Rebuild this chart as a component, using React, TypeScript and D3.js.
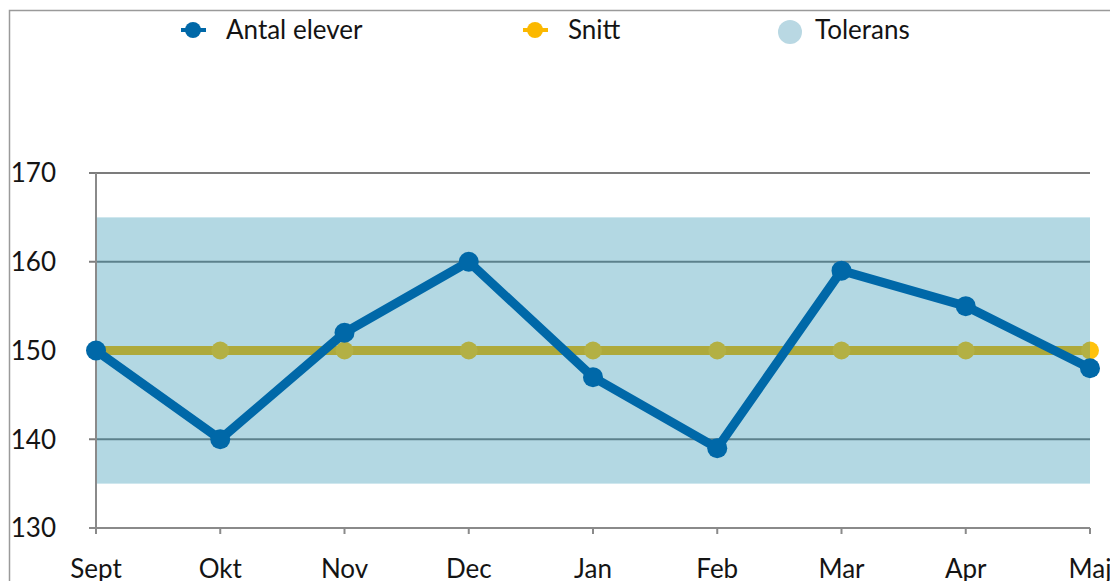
import React, { useEffect, useRef } from 'react';
import * as d3 from 'd3';

const months = ['Sept', 'Okt', 'Nov', 'Dec', 'Jan', 'Feb', 'Mar', 'Apr', 'Maj'];
const antalElever = [150, 140, 152, 160, 147, 139, 159, 155, 148];
const snitt = [150, 150, 150, 150, 150, 150, 150, 150, 150];
const tolerans = [135, 165];
const yTicks = [130, 140, 150, 160, 170];

const FONT = 'Lato, "Noto Sans", sans-serif';

function App() {
    const svgRef = useRef<SVGSVGElement>(null);

    useEffect(() => {
        const svg = d3.select(svgRef.current);
        svg.selectAll('*').remove();

        const W = 1110, H = 581;
        svg.attr('width', W).attr('height', H);

        const x = d3.scalePoint<string>().domain(months).range([96, 1090]);
        const y = d3.scaleLinear().domain([130, 170]).range([528, 173]);

        // outer frame (top + left)
        svg.append('path')
            .attr('d', `M9.5,${H} V10.5 H${W}`)
            .attr('fill', 'none')
            .attr('stroke', '#9a9a9a')
            .attr('stroke-width', 1.5);

        // gridlines
        svg.append('g')
            .selectAll('line')
            .data(yTicks.filter(t => t !== 130))
            .enter()
            .append('line')
            .attr('x1', 89)
            .attr('x2', 1090)
            .attr('y1', d => y(d))
            .attr('y2', d => y(d))
            .attr('stroke', '#7c7c7c')
            .attr('stroke-width', 2);

        // y axis line
        svg.append('line')
            .attr('x1', 96).attr('x2', 96)
            .attr('y1', y(170)).attr('y2', y(130) + 6)
            .attr('stroke', '#8a8a8a').attr('stroke-width', 2);

        // x axis line + ticks
        svg.append('line')
            .attr('x1', 89).attr('x2', 1090)
            .attr('y1', y(130)).attr('y2', y(130))
            .attr('stroke', '#8a8a8a').attr('stroke-width', 2);
        svg.append('g')
            .selectAll('line')
            .data(months)
            .enter()
            .append('line')
            .attr('x1', d => x(d)!)
            .attr('x2', d => x(d)!)
            .attr('y1', y(130))
            .attr('y2', y(130) + 6)
            .attr('stroke', '#8a8a8a').attr('stroke-width', 2);

        // y labels
        svg.append('g')
            .selectAll('text')
            .data(yTicks)
            .enter()
            .append('text')
            .attr('x', 56)
            .attr('y', d => y(d))
            .attr('dy', '0.36em')
            .attr('text-anchor', 'end')
            .style('font-family', FONT)
            .style('font-size', '26px')
            .attr('fill', '#141414')
            .text(d => d);

        // x labels
        svg.append('g')
            .selectAll('text')
            .data(months)
            .enter()
            .append('text')
            .attr('x', d => x(d)!)
            .attr('y', 578)
            .attr('text-anchor', 'middle')
            .style('font-family', FONT)
            .style('font-size', '26px')
            .attr('fill', '#141414')
            .text(d => d);

        // Snitt line (under the band)
        const line = d3.line<number>()
            .x((_, i) => x(months[i])!)
            .y(d => y(d));

        svg.append('path')
            .datum(snitt)
            .attr('d', line)
            .attr('fill', 'none')
            .attr('stroke', '#f7b800')
            .attr('stroke-width', 9);
        svg.append('g')
            .selectAll('circle')
            .data(snitt)
            .enter()
            .append('circle')
            .attr('cx', (_, i) => x(months[i])!)
            .attr('cy', d => y(d))
            .attr('r', 9)
            .attr('fill', '#ffc20e');

        // Tolerans band (semi-transparent)
        svg.append('rect')
            .attr('x', 97)
            .attr('width', 1090 - 97)
            .attr('y', y(tolerans[1]))
            .attr('height', y(tolerans[0]) - y(tolerans[1]))
            .attr('fill', '#1f8cad')
            .attr('fill-opacity', 0.34);

        // Antal elever
        svg.append('path')
            .datum(antalElever)
            .attr('d', line)
            .attr('fill', 'none')
            .attr('stroke', '#0068a8')
            .attr('stroke-width', 9)
            .attr('stroke-linejoin', 'round');
        svg.append('g')
            .selectAll('circle')
            .data(antalElever)
            .enter()
            .append('circle')
            .attr('cx', (_, i) => x(months[i])!)
            .attr('cy', d => y(d))
            .attr('r', 10)
            .attr('fill', '#0068a8');

        // legend
        const legend = [
            { label: 'Antal elever', color: '#0068a8', x: 193, kind: 'line' },
            { label: 'Snitt', color: '#fbb800', x: 535, kind: 'line' },
            { label: 'Tolerans', color: '#b9d8e3', x: 790, kind: 'dot' },
        ];
        const lg = svg.append('g');
        legend.forEach(l => {
            if (l.kind === 'line') {
                lg.append('line')
                    .attr('x1', l.x - 12).attr('x2', l.x + 13)
                    .attr('y1', 30).attr('y2', 30)
                    .attr('stroke', l.color).attr('stroke-width', 4);
                lg.append('circle')
                    .attr('cx', l.x).attr('cy', 30).attr('r', 8)
                    .attr('fill', l.color);
            } else {
                lg.append('circle')
                    .attr('cx', l.x).attr('cy', 32).attr('r', 12)
                    .attr('fill', l.color);
            }
            lg.append('text')
                .attr('x', l.kind === 'line' ? l.x + 33 : l.x + 25)
                .attr('y', 30)
                .attr('dy', '0.36em')
                .style('font-family', FONT)
                .style('font-size', '26px')
                .attr('fill', '#141414')
                .text(l.label);
        });
    }, []);

    return <svg ref={svgRef} style={{ position: 'absolute', left: 0, top: 0 }}></svg>;
}

export default App;
